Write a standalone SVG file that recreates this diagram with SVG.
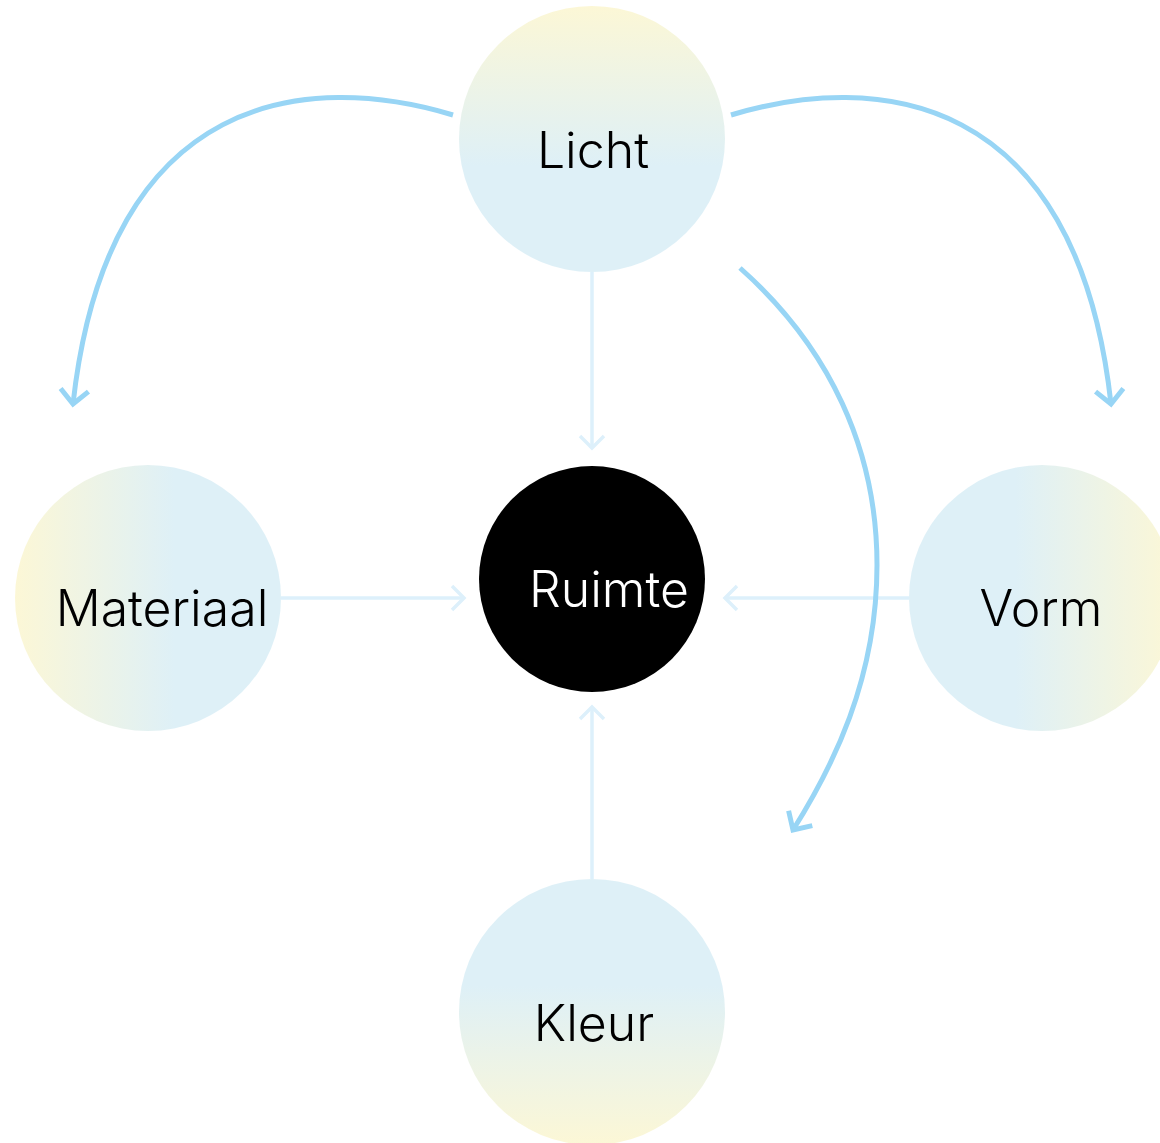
<svg xmlns="http://www.w3.org/2000/svg" width="1160" height="1143" viewBox="0 0 1160 1143">
  <style>
    .label { font-family: "Inter", "Liberation Sans", sans-serif; font-size: 50px; font-weight: 300; fill: #000; text-anchor: middle; }
    .light { fill: none; stroke: #DDF0FB; stroke-width: 3.5; }
    .strong { fill: none; stroke: #98D5F5; stroke-width: 5; }
  </style>
  <defs>
    <linearGradient id="gDown" x1="0" y1="0" x2="0" y2="1">
      <stop offset="0" stop-color="#FCF7D6"/>
      <stop offset="0.6" stop-color="#DEF0F7"/>
      <stop offset="1" stop-color="#DEF0F7"/>
    </linearGradient>
    <linearGradient id="gUp" x1="0" y1="1" x2="0" y2="0">
      <stop offset="0" stop-color="#FCF7D6"/>
      <stop offset="0.6" stop-color="#DEF0F7"/>
      <stop offset="1" stop-color="#DEF0F7"/>
    </linearGradient>
    <linearGradient id="gRight" x1="0" y1="0" x2="1" y2="0">
      <stop offset="0" stop-color="#FCF7D6"/>
      <stop offset="0.6" stop-color="#DEF0F7"/>
      <stop offset="1" stop-color="#DEF0F7"/>
    </linearGradient>
    <linearGradient id="gLeft" x1="1" y1="0" x2="0" y2="0">
      <stop offset="0" stop-color="#FCF7D6"/>
      <stop offset="0.6" stop-color="#DEF0F7"/>
      <stop offset="1" stop-color="#DEF0F7"/>
    </linearGradient>
    <marker id="aLight" markerUnits="userSpaceOnUse" markerWidth="30" markerHeight="30" viewBox="-15 -15 30 30" refX="0" refY="0" orient="auto">
      <path d="M -12 -12 L 0 0 L -12 12" fill="none" stroke="#DDF0FB" stroke-width="3.5"/>
    </marker>
    <marker id="aStrong" markerUnits="userSpaceOnUse" markerWidth="40" markerHeight="40" viewBox="-20 -20 40 40" refX="0" refY="0" orient="auto">
      <path d="M -14 -14 L 0 0 L -14 14" fill="none" stroke="#98D5F5" stroke-width="5"/>
    </marker>
  </defs>

  <g id="node-licht">
    <circle cx="592" cy="139" r="133" fill="url(#gDown)"/>
    <text class="label" x="593" y="168">Licht</text>
  </g>
  <g id="node-materiaal">
    <circle cx="148" cy="598" r="133" fill="url(#gRight)"/>
    <text class="label" x="162" y="626">Materiaal</text>
  </g>
  <g id="node-ruimte">
    <circle cx="592" cy="579" r="113" fill="#000"/>
    <text class="label" x="609" y="607" style="fill:#fff">Ruimte</text>
  </g>
  <g id="node-vorm">
    <circle cx="1042" cy="598" r="133" fill="url(#gLeft)"/>
    <text class="label" x="1041" y="626">Vorm</text>
  </g>
  <g id="node-kleur">
    <circle cx="592" cy="1012" r="133" fill="url(#gUp)"/>
    <text class="label" x="594" y="1041">Kleur</text>
  </g>

  <g id="connectors">
    <path class="light" d="M592 272 L592 448" marker-end="url(#aLight)"/>
    <path class="light" d="M281 598 L464 598" marker-end="url(#aLight)"/>
    <path class="light" d="M909 598 L725 598" marker-end="url(#aLight)"/>
    <path class="light" d="M592 879 L592 707" marker-end="url(#aLight)"/>
    <path class="strong" d="M453 115 C 310 72, 108 88, 73 404" marker-end="url(#aStrong)"/>
    <path class="strong" d="M731 115 C 874 72, 1076 88, 1111 404" marker-end="url(#aStrong)"/>
    <path class="strong" d="M740 268 C 830 348, 877 450, 877 565 C 877 680, 832 768, 793 830" marker-end="url(#aStrong)"/>
  </g>
</svg>
